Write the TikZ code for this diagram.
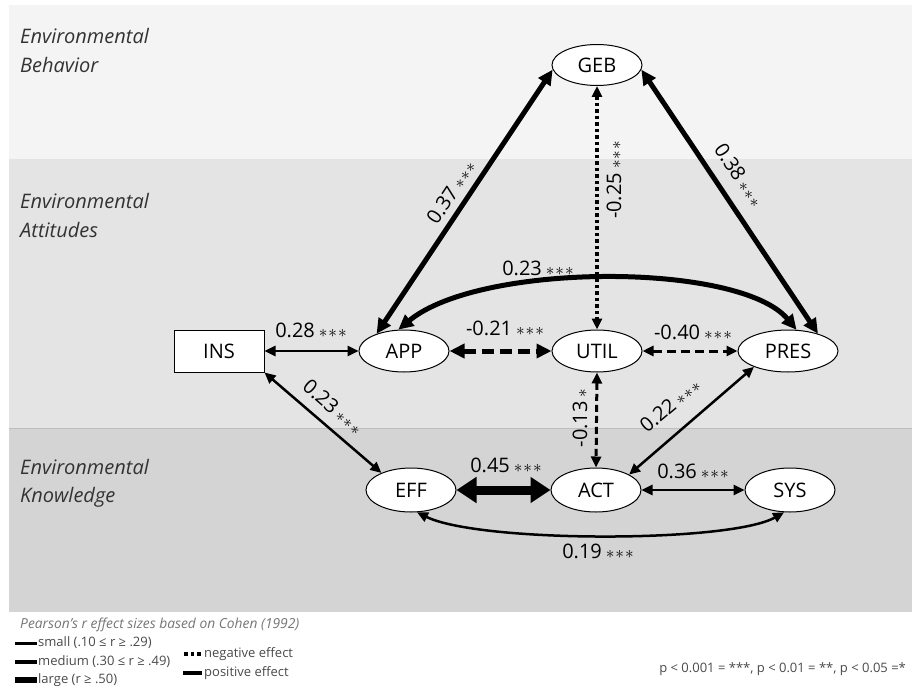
\documentclass[tikz,border=0pt]{standalone}
\usepackage{fontspec}
\setmainfont{Open Sans}
\usetikzlibrary{arrows.meta,shapes.geometric}

\definecolor{bandtop}{HTML}{F4F4F4}
\definecolor{bandmid}{HTML}{E5E4E5}
\definecolor{bandlow}{HTML}{D4D4D4}
\definecolor{bandline}{HTML}{BEBEBE}
\definecolor{labelgray}{HTML}{333333}
\definecolor{legendgray}{HTML}{4A4A4A}
\definecolor{titlegray}{HTML}{767676}

% significance stars set as centred asterisks
\newcommand{\starsiii}{\hspace{4pt}{\fontsize{18}{18}\selectfont$\mathord{\ast}\mkern1mu\mathord{\ast}\mkern1mu\mathord{\ast}$}}
\newcommand{\starsi}{\hspace{4pt}{\fontsize{18}{18}\selectfont$\mathord{\ast}$}}

\begin{document}
\begin{tikzpicture}[x=1pt,y=-1pt,
  every node/.style={font=\fontsize{20}{22}\selectfont},
  latent/.style={ellipse, draw, line width=1pt, fill=white,
    minimum width=90pt, minimum height=42pt, inner sep=0pt},
  manifest/.style={rectangle, draw, line width=1pt, fill=white,
    minimum width=90pt, minimum height=42pt, inner sep=0pt},
  small/.style={line width=2.5pt,
    arrows={Triangle[length=11pt,width=10pt]-Triangle[length=11pt,width=10pt]}},
  medium/.style={line width=5pt,
    arrows={Triangle[length=15pt,width=14pt]-Triangle[length=15pt,width=14pt]}},
  large/.style={line width=9pt,
    arrows={Triangle[length=20pt,width=25pt]-Triangle[length=20pt,width=25pt]}},
  dotline/.style={dash pattern=on 3.5pt off 3pt},
  dashshort/.style={dash pattern=on 7pt off 4pt},
  dashmid/.style={dash pattern=on 9pt off 5pt},
  dashlong/.style={dash pattern=on 12pt off 6pt},
  coef/.style={font=\fontsize{20}{22}\selectfont, inner sep=0pt},
  band/.style={font=\itshape\fontsize{20}{20}\selectfont, text=labelgray, anchor=base west, inner sep=0pt},
  legtext/.style={font=\fontsize{13}{13}\selectfont, text=legendgray, anchor=west, inner sep=1pt}
]
\useasboundingbox (0,0) rectangle (912,690);
\fill[white] (0,0) rectangle (912,690);

% level bands
\fill[bandtop] (9,5) rectangle (912,159);
\fill[bandmid] (9,159) rectangle (912,428);
\fill[bandlow] (9,428) rectangle (912,612);
\draw[bandline, line width=1pt] (9,428) -- (912,428);

\node[band] at (20,44) {Environmental};
\node[band] at (20,73) {Behavior};
\node[band] at (20,208) {Environmental};
\node[band] at (20,237) {Attitudes};
\node[band] at (20,474) {Environmental};
\node[band] at (20,502) {Knowledge};

% variables
\node[latent, minimum height=41pt] (GEB) at (597,65) {GEB};
\node[manifest] (INS) at (219,351) {INS};
\node[latent] (APP) at (404,351) {APP};
\node[latent] (UTIL) at (597,351) {UTIL};
\node[latent, minimum width=100pt] (PRES) at (788,351) {PRES};
\node[latent, minimum height=44pt] (EFF) at (411,490) {EFF};
\node[latent, minimum height=44pt] (ACT) at (596,490) {ACT};
\node[latent, minimum height=44pt] (SYS) at (790,490) {SYS};

% correlations
\draw[medium] (APP.148) -- (GEB.186);
\draw[medium] (GEB.354) -- (PRES.30);
\draw[small, line width=3.5pt, dotline] (GEB.south) -- (UTIL.north);
\draw[medium] (APP.105) .. controls (480,262) and (740,262) .. (PRES.68);
\draw[small] (INS.east) -- (APP.west);
\draw[medium, dashlong] (APP.east) -- (UTIL.west);
\draw[small, line width=3pt, dashmid] (UTIL.east) -- (PRES.west);
\draw[small] (INS.south east) -- (EFF.150);
\draw[small, line width=3pt, dashshort] (UTIL.south) -- (ACT.north);
\draw[small] (ACT.25) -- (PRES.205);
\draw[large] (EFF.east) -- (ACT.west);
\draw[small] (ACT.east) -- (SYS.west);
\draw[small] (EFF.-75) .. controls (480,543) and (730,543) .. (SYS.-105);

% coefficients
\node[coef, rotate=56.5] at (451,192) {0.37\starsiii};
\node[coef, rotate=-56.5] at (739,175) {0.38\starsiii};
\node[coef, rotate=90] at (614,180) {-0.25\starsiii};
\node[coef] at (538,268) {0.23\starsiii};
\node[coef] at (311,330) {0.28\starsiii};
\node[coef] at (505,328) {-0.21\starsiii};
\node[coef] at (693,332) {-0.40\starsiii};
\node[coef, rotate=-41] at (333,407) {0.23\starsiii};
\node[coef, rotate=90] at (580,418) {-0.13\starsi};
\node[coef, rotate=40] at (670,405) {0.22\starsiii};
\node[coef] at (506,465) {0.45\starsiii};
\node[coef] at (693,471) {0.36\starsiii};
\node[coef] at (598,551) {0.19\starsiii};

% legend
\node[anchor=west, inner sep=0pt, font=\itshape\fontsize{13.8}{14}\selectfont, text=titlegray]
  (title) at (20,625) {Pearson’s r effect sizes based on Cohen (1992)};
\draw[line width=3pt] (15,643) -- (37,643);
\node[legtext] at (37,643) {small (.10 ≤ r ≥ .29)};
\draw[line width=4pt] (15,662) -- (37,662);
\node[legtext] at (37,662) {medium (.30 ≤ r ≥ .49)};
\draw[line width=6pt] (15,680) -- (37,680);
\node[legtext] at (37,680) {large (r ≥ .50)};
\draw[line width=3.5pt, dotline] (184,654) -- (203,654);
\node[legtext] at (203,654) {negative effect};
\draw[line width=4pt] (183,673) -- (202,673);
\node[legtext] at (203,673) {positive effect};
\node[legtext, anchor=east] at (907,669) {p < 0.001 = ***, p < 0.01 = **, p < 0.05 =*};
\end{tikzpicture}
\end{document}
